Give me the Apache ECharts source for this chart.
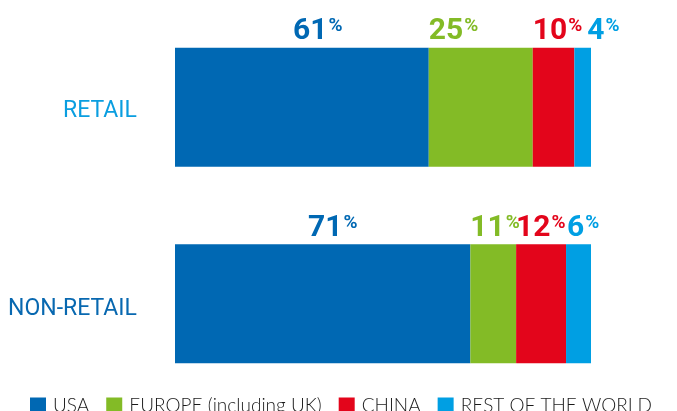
<!DOCTYPE html>
<html>
<head>
<meta charset="utf-8">
<script src="https://cdn.jsdelivr.net/npm/echarts@6/dist/echarts.min.js"></script>
<style>
    html, body { margin: 0; padding: 0; background: #fff; }
    #chart { width: 677px; height: 411px; }
</style>
</head>
<body>
<div id="chart"></div>
<script>
// 数据
var categories = ['RETAIL', 'NON-RETAIL'];
var seriesNames = ['USA', 'EUROPE (including UK)', 'CHINA', 'REST OF THE WORLD'];
var usa = [61, 71];
var europe = [25, 11];
var china = [10, 12];
var restOfWorld = [4, 6];

var colors = ['#0068b3', '#83bb26', '#e3051b', '#009fe3'];
var catColors = ['#0a9ee0', '#0868b0'];
// 标签相对色块起点的偏移 (px)
var labelShift = [[118, 133], [0, 0], [0, 0], [13, 1]];
var labelFont = 'Roboto, "Liberation Sans", sans-serif';

var myChart = echarts.init(document.getElementById('chart'));

function buildSeries(name, values, idx) {
    var dataList = [];
    for (var i = 0; i < values.length; i++) {
        dataList.push({
            value: values[i],
            label: { position: [labelShift[idx][i], -1] }
        });
    }
    return {
        name: name,
        type: 'bar',
        stack: 'total',
        barWidth: 119,
        itemStyle: { color: colors[idx] },
        label: {
            show: true,
            align: 'left',
            verticalAlign: 'bottom',
            formatter: '{n|{c}}{p|%}',
            rich: {
                n: {
                    fontFamily: labelFont,
                    fontWeight: 'bold',
                    fontSize: 30,
                    lineHeight: 30,
                    color: colors[idx],
                    verticalAlign: 'bottom'
                },
                p: {
                    fontFamily: labelFont,
                    fontWeight: 'bold',
                    fontSize: 19,
                    lineHeight: 19,
                    color: colors[idx],
                    verticalAlign: 'top',
                    padding: [0, 0, 0, 1]
                }
            }
        },
        data: dataList
    };
}

var option = {
    animation: false,
    color: colors,
    grid: { left: 175, right: 86, top: 9, bottom: 9, containLabel: false },
    legend: {
        data: seriesNames,
        left: 30,
        top: 396,
        padding: 0,
        itemWidth: 16,
        itemHeight: 16,
        itemGap: 17,
        icon: 'rect',
        textStyle: {
            fontFamily: 'Lato, "Liberation Sans", sans-serif',
            fontWeight: 300,
            fontSize: 19,
            color: '#1a1a1a',
            padding: [0, 0, 0, 2]
        }
    },
    xAxis: {
        type: 'value',
        min: 0,
        max: 100,
        show: false
    },
    yAxis: {
        type: 'category',
        inverse: true,
        data: categories,
        axisLine: { show: false },
        axisTick: { show: false },
        axisLabel: {
            margin: 38,
            formatter: function (value, index) {
                return '{c' + index + '|' + value + '}';
            },
            rich: {
                c0: {
                    fontFamily: labelFont,
                    fontSize: 23,
                    color: catColors[0],
                    padding: [8, 0, 0, 0]
                },
                c1: {
                    fontFamily: labelFont,
                    fontSize: 23,
                    color: catColors[1],
                    padding: [10, 0, 0, 0]
                }
            }
        }
    },
    series: [
        buildSeries(seriesNames[0], usa, 0),
        buildSeries(seriesNames[1], europe, 1),
        buildSeries(seriesNames[2], china, 2),
        buildSeries(seriesNames[3], restOfWorld, 3)
    ]
};
myChart.setOption(option);
</script>
</body>
</html>
